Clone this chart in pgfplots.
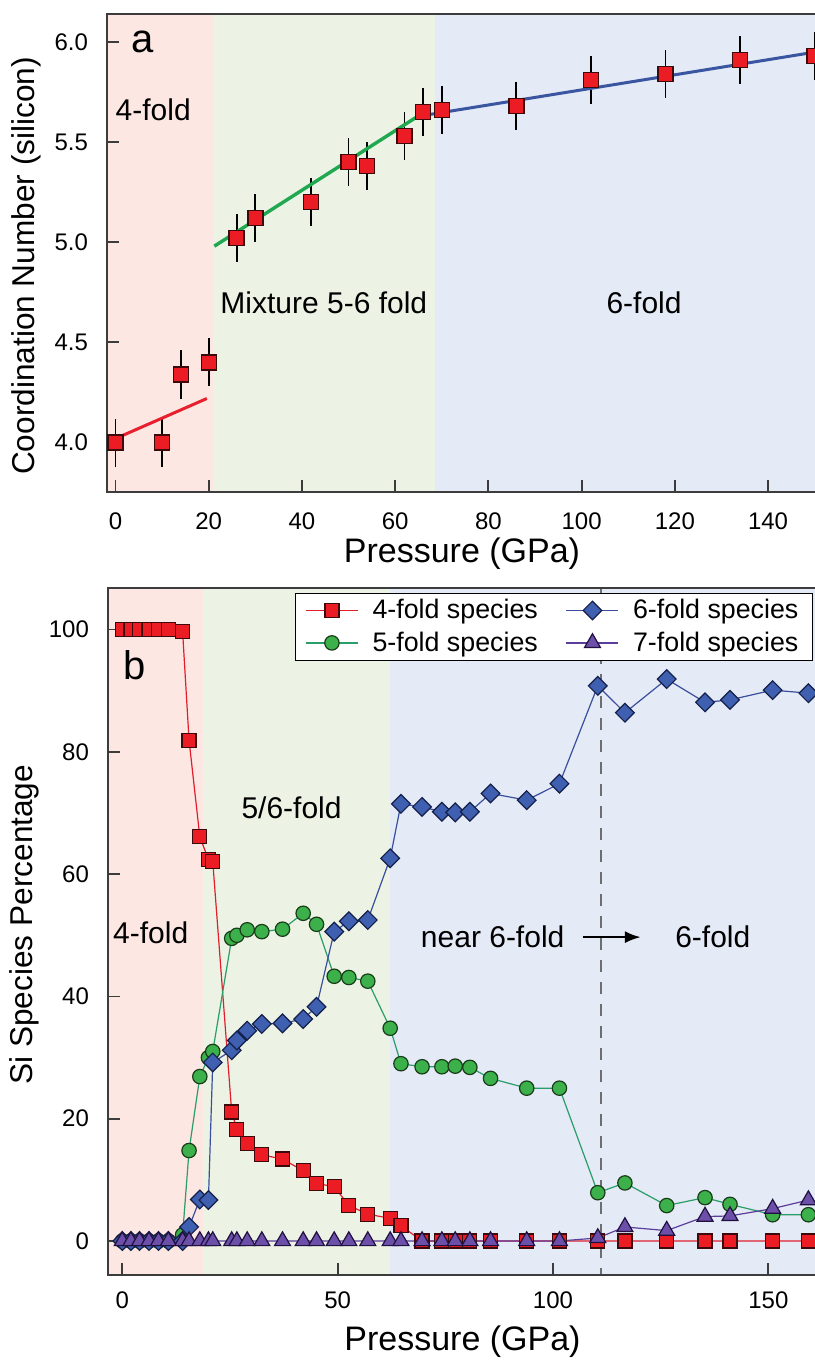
\documentclass[border=0pt]{standalone}
\usepackage{fontspec}
\setmainfont{Liberation Sans}
\usepackage{pgfplots}
\pgfplotsset{compat=1.18}
\usetikzlibrary{arrows.meta}

\definecolor{bgpink}{RGB}{252,231,227}
\definecolor{bggreen}{RGB}{236,243,228}
\definecolor{bgblue}{RGB}{228,234,246}
\definecolor{axisgray}{RGB}{60,60,60}
\definecolor{sqfill}{RGB}{236,28,36}
\definecolor{sqedge}{RGB}{60,10,10}
\definecolor{sqline}{RGB}{226,30,45}
\definecolor{cifill}{RGB}{60,176,74}
\definecolor{ciedge}{RGB}{25,60,25}
\definecolor{ciline}{RGB}{42,157,106}
\definecolor{difill}{RGB}{63,95,176}
\definecolor{diedge}{RGB}{20,32,74}
\definecolor{diline}{RGB}{58,79,158}
\definecolor{trfill}{RGB}{107,79,168}
\definecolor{tredge}{RGB}{32,16,64}
\definecolor{trline}{RGB}{91,61,154}
\definecolor{fitred}{RGB}{232,32,46}
\definecolor{fitgreen}{RGB}{31,168,79}
\definecolor{fitblue}{RGB}{58,86,160}

% panel a: coordination number with error
\pgfplotstableread{
P   CN   err
0   4.00 0.12
10  4.00 0.12
14  4.34 0.12
20  4.40 0.12
26  5.02 0.12
30  5.12 0.12
42  5.20 0.12
50  5.40 0.12
54  5.38 0.12
62  5.53 0.12
66  5.65 0.12
70  5.66 0.12
86  5.68 0.12
102 5.81 0.12
118 5.84 0.12
134 5.91 0.12
150 5.93 0.12
}\cntable

% panel b: species percentages
\pgfplotstableread{
P     four  five  six   seven
0     100   0     0     0
2     100   0     0     0
4     100   0     0     0
6.2   100   0     0     0
8.4   100   0     0     0
10.7  100   0     0     0
14    99.7  1.0   0     0
15.5  81.9  14.8  2.3   0
18    66.1  26.9  6.8   0
20    62.4  30.0  6.7   0
21    62.1  31.0  29.2  0
25.4  21.1  49.5  31.2  0
26.6  18.3  50.0  32.8  0
29    16.0  50.9  34.4  0
32.4  14.1  50.6  35.5  0
37.2  13.4  51.0  35.6  0
42    11.5  53.6  36.3  0
45.1  9.4   51.8  38.3  0
49.2  8.9   43.3  50.6  0
52.6  5.8   43.1  52.3  0
57    4.4   42.5  52.5  0
62.2  3.7   34.8  62.6  0
64.7  2.5   29.0  71.5  0
69.6  0     28.5  71.0  0
74.2  0     28.5  70.2  0
77.3  0     28.6  70.1  0
80.7  0     28.4  70.2  0
85.5  0     26.6  73.2  0
93.9  0     25.0  72.1  0
101.5 0     25.0  74.8  0
110.4 0     7.9   90.8  0.5
116.7 0     9.5   86.4  2.3
126.4 0     5.8   91.9  1.7
135.3 0     7.1   88.1  4.0
141.1 0     6.0   88.5  4.1
151   0     4.3   90.1  5.3
159.3 0     4.3   89.6  6.7
}\spectable

\pgfplotsset{
  common/.style={
    scale only axis,
    axis on top,
    anchor=south west,
    axis line style={draw=axisgray, line width=1pt},
    tick style={draw=axisgray, line width=0.9pt},
    tick align=inside,
    major tick length=6pt,
    xtick pos=left, ytick pos=left,
    minor tick num=0,
    tick label style={font=\fontsize{12}{14}\selectfont, text=black},
    /pgf/number format/assume math mode=true,
    yticklabel style={anchor=east, xshift=-6pt},
  },
}
\tikzset{lbl/.style={font=\fontsize{15}{18}\selectfont, anchor=center}}

\begin{document}
\begin{tikzpicture}

% ---------- panel a ----------
\begin{axis}[common,
  at={(53.5pt,-246pt)},
  width=355pt, height=239pt,
  xmin=-1.82, xmax=150.5, ymin=3.7535, ymax=6.1385,
  xtick={0,20,40,60,80,100,120,140},
  ytick={4.0,4.5,5.0,5.5,6.0},
  yticklabel={\pgfmathprintnumber[fixed,fixed zerofill,precision=1]{\tick}},
  xticklabel style={anchor=center, yshift=-14.5pt},
  xlabel={Pressure (GPa)}, ylabel={Coordination Number (silicon)},
  every axis x label/.style={at={(axis description cs:0.5,0)}, anchor=center,
    yshift=-31pt, font=\fontsize{17}{20}\selectfont},
  every axis y label/.style={at={(axis description cs:0,0.473)}, rotate=90, anchor=center,
    yshift=40.5pt, font=\fontsize{15.8}{19}\selectfont},
]
\addplot[forget plot, draw=none, fill=bgpink] coordinates {(-5,3) (21,3) (21,7) (-5,7)} -- cycle;
\addplot[forget plot, draw=none, fill=bggreen] coordinates {(21,3) (68.5,3) (68.5,7) (21,7)} -- cycle;
\addplot[forget plot, draw=none, fill=bgblue] coordinates {(68.5,3) (160,3) (160,7) (68.5,7)} -- cycle;

\addplot[only marks, mark=square*, mark size=3.75pt,
  mark options={fill=sqfill, draw=sqedge, line width=0.7pt},
  error bars/.cd, y dir=both, y explicit, error mark=none,
  error bar style={line width=0.9pt, black}]
  table[x=P, y=CN, y error=err] {\cntable};

\addplot[fitred, line width=1.5pt] coordinates {(0,4.02) (19.6,4.22)};
\addplot[fitgreen, line width=1.7pt] coordinates {(21.2,4.98) (67,5.66)};
\addplot[fitblue, line width=1.5pt] coordinates {(65.5,5.63) (150.5,5.95)};

\node[font=\fontsize{20}{22}\selectfont, anchor=center] at (axis cs:5.9,6.0) {a};
\node[lbl] at (axis cs:8.1,5.66) {4-fold};
\node[lbl] at (axis cs:44.7,4.70) {Mixture 5-6 fold};
\node[lbl] at (axis cs:113.4,4.70) {6-fold};
\end{axis}

% ---------- panel b ----------
\begin{axis}[common,
  at={(54pt,-637.5pt)},
  width=354.5pt, height=343.5pt,
  xmin=-3.32, xmax=161.3, ymin=-5.56, ymax=106.8,
  xtick={0,50,100,150},
  ytick={0,20,40,60,80,100},
  xticklabel style={anchor=center, yshift=-12.5pt},
  xlabel={Pressure (GPa)}, ylabel={Si Species Percentage},
  every axis x label/.style={at={(axis description cs:0.5,0)}, anchor=center,
    yshift=-33.5pt, font=\fontsize{17}{20}\selectfont},
  every axis y label/.style={at={(axis description cs:0,0.51)}, rotate=90, anchor=center,
    yshift=42pt, font=\fontsize{15.8}{19}\selectfont},
  legend columns=2, transpose legend,
  legend cell align=left,
  legend image code/.code={\draw[mark repeat=2,mark phase=2] plot coordinates {(0pt,0pt) (13pt,0pt) (26pt,0pt)};},
  legend style={at={(0.9944,0.9932)}, anchor=north east, draw=black, line width=0.6pt,
    fill=white, font=\fontsize{13.4}{15}\selectfont, inner xsep=5pt, inner ysep=1pt,
    row sep=1pt,
    /tikz/every odd column/.append style={column sep=5pt},
    /tikz/every even column/.append style={column sep=12pt}},
]
\addplot[forget plot, draw=none, fill=bgpink] coordinates {(-10,-10) (18.8,-10) (18.8,120) (-10,120)} -- cycle;
\addplot[forget plot, draw=none, fill=bggreen] coordinates {(18.8,-10) (62.2,-10) (62.2,120) (18.8,120)} -- cycle;
\addplot[forget plot, draw=none, fill=bgblue] coordinates {(62.2,-10) (170,-10) (170,120) (62.2,120)} -- cycle;
\addplot[forget plot, draw={rgb,255:red,110;green,110;blue,110}, line width=0.8pt,
  dash pattern=on 6pt off 5pt] coordinates {(111.2,-10) (111.2,120)};

\addplot[sqline, line width=0.6pt, mark=square*, mark size=3.5pt,
  mark options={fill=sqfill, draw=sqedge, line width=0.6pt}]
  table[x=P, y=four] {\spectable};
\addlegendentry{4-fold species}
\addplot[ciline, line width=0.6pt, mark=*, mark size=3.6pt,
  mark options={fill=cifill, draw=ciedge, line width=0.6pt}]
  table[x=P, y=five] {\spectable};
\addlegendentry{5-fold species}
\addplot[diline, line width=0.6pt, mark=square*, mark size=3.3pt,
  mark options={rotate=45, fill=difill, draw=diedge, line width=0.6pt}]
  table[x=P, y=six] {\spectable};
\addlegendentry{6-fold species}
\addplot[trline, line width=0.6pt, mark=triangle*, mark size=4.6pt,
  mark options={fill=trfill, draw=tredge, line width=0.6pt}]
  table[x=P, y=seven] {\spectable};
\addlegendentry{7-fold species}

\node[font=\fontsize{20}{22}\selectfont, anchor=center] at (axis cs:2.95,94.2) {b};
\node[lbl] at (axis cs:39.3,70.8) {5/6-fold};
\node[lbl] at (axis cs:6.6,50.4) {4-fold};
\node[lbl] at (axis cs:86.0,49.8) {near 6-fold};
\node[lbl] at (axis cs:137.1,49.8) {6-fold};
\draw[-{Latex[length=8pt,width=6pt]}, line width=1.2pt] (axis cs:106.9,49.7) -- (axis cs:120.4,49.7);
\end{axis}

\pgfresetboundingbox
\useasboundingbox (0,0) rectangle (407pt,-682pt);
\end{tikzpicture}
\end{document}
